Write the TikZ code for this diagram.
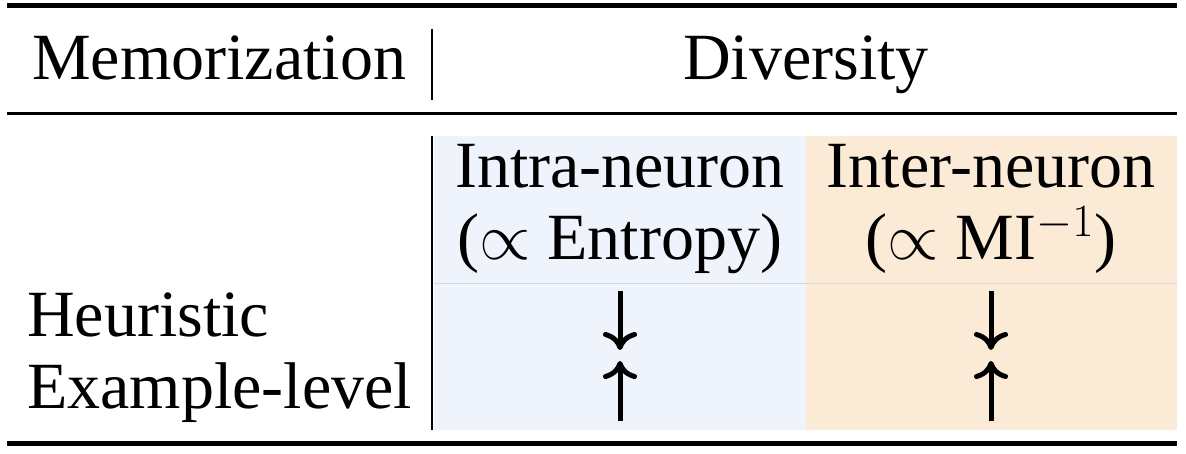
\RequirePackage{fix-cm}
\documentclass[tikz,border=0pt]{standalone}
\usepackage{fontspec}
\setmainfont{Liberation Serif}
\usetikzlibrary{positioning,arrows.meta}

\definecolor{intrablue}{RGB}{239,244,252}
\definecolor{interorange}{RGB}{251,234,214}
\definecolor{splitgray}{RGB}{212,216,224}

\begin{document}
\begin{tikzpicture}
[   x=1pt,y=-1pt,
    txt/.style={inner sep=0pt,anchor=base,font=\fontsize{66}{72}\selectfont},
    colhead/.style={txt,align=center},
    lefttxt/.style={txt,align=left,anchor=base west},
    trend/.style={line width=5pt,-{Computer Modern Rightarrow[length=18pt,width=34pt]}},
    bigrule/.style={line width=5pt},
    midrule/.style={line width=3pt},
    colbar/.style={line width=2pt}
]
    \useasboundingbox (0,0) rectangle (1186,454);
    % coloured columns
    \fill[intrablue] (434,136) rectangle (806,430);
    \fill[interorange] (806,136) rectangle (1177,430);
    \draw[splitgray,line width=1pt] (434,284) -- (1177,284);
    % rules
    \draw[bigrule] (7,6) -- (1177,6);
    \draw[midrule] (7,114) -- (1177,114);
    \draw[bigrule] (7,443) -- (1177,443);
    \draw[colbar] (432,29) -- (432,100);
    \draw[colbar] (432,136) -- (432,430);
    % header
    \node[txt] (mem) at (219,80) {Memorization};
    \node[txt] (div) at (806,80) {Diversity};
    % column heads (base = last line)
    \node[colhead] (intra) at (620,260) {Intra-neuron\\($\propto$ Entropy)};
    \node[colhead] (inter) at (991,260) {Inter-neuron\\($\propto$ MI$^{-1}$)};
    % rows
    \node[lefttxt] (rows) at (27,408) {Heuristic\\Example-level};
    % trend arrows
    \coordinate (intraHs) at (620,291);
    \coordinate (intraHe) at (620,350);
    \coordinate (intraEs) at (620,421);
    \coordinate (intraEe) at (620,361);
    \coordinate (interHs) at (991,291);
    \coordinate (interHe) at (991,350);
    \coordinate (interEs) at (991,421);
    \coordinate (interEe) at (991,361);
    \draw[trend] (intraHs) -- (intraHe);
    \draw[trend] (intraEs) -- (intraEe);
    \draw[trend] (interHs) -- (interHe);
    \draw[trend] (interEs) -- (interEe);
\end{tikzpicture}
\end{document}
